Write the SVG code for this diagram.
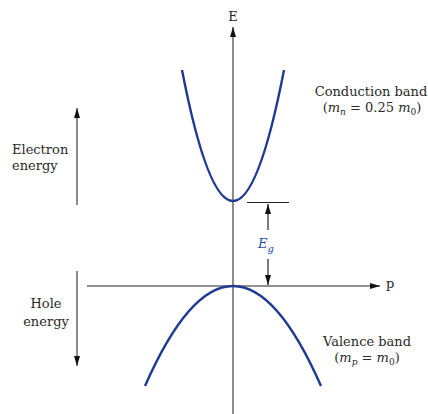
<svg xmlns="http://www.w3.org/2000/svg" width="428" height="414" viewBox="0 0 428 414">
<defs>
<marker id="ah" viewBox="0 0 10 6" refX="10" refY="3" markerWidth="10" markerHeight="6" markerUnits="userSpaceOnUse" orient="auto-start-reverse">
<path d="M0,0 L10,3 L0,6 Z" fill="#111"/>
</marker>
</defs>
<style>
text{font-family:"DejaVu Serif","Liberation Serif",serif;font-size:13px;fill:#2a2a2a}
.it{font-style:italic}
.ax{stroke:#666;stroke-width:1.5;fill:none}
.ln{stroke:#222;stroke-width:1.2;fill:none}
.band{stroke:#1f3a93;stroke-width:2.4;fill:none}
</style>
<rect width="428" height="414" fill="#fff"/>
<g id="connectors">
<line id="e-axis" class="ax" x1="233" y1="414" x2="233" y2="27" marker-end="url(#ah)"/>
<line id="p-axis" class="ln" x1="87" y1="286" x2="380" y2="286" marker-end="url(#ah)"/>
<line id="eg-top" class="ln" x1="247" y1="202.5" x2="289" y2="202.5"/>
<line id="eg-arrow-up" class="ln" x1="268" y1="230" x2="268" y2="204" marker-end="url(#ah)"/>
<line id="eg-arrow-down" class="ln" x1="268" y1="259" x2="268" y2="285" marker-end="url(#ah)"/>
<line id="electron-arrow" class="ax" x1="77" y1="205" x2="77" y2="108" marker-end="url(#ah)"/>
<line id="hole-arrow" class="ax" x1="77" y1="271" x2="77" y2="366" marker-end="url(#ah)"/>
</g>
<g id="conduction-band">
<path class="band" d="M182,70 Q233,332 284,70"/>
<text x="371" y="96" text-anchor="middle">Conduction band</text>
<text x="372" y="112" text-anchor="middle">(<tspan class="it">m</tspan><tspan class="it" font-size="9" dy="3">n</tspan><tspan dy="-3"> = 0.25 </tspan><tspan class="it">m</tspan><tspan font-size="9" dy="3">0</tspan><tspan dy="-3">)</tspan></text>
</g>
<g id="valence-band">
<path class="band" d="M145,386 Q233,186 321,386"/>
<text x="367" y="346" text-anchor="middle">Valence band</text>
<text x="367" y="362" text-anchor="middle">(<tspan class="it">m</tspan><tspan class="it" font-size="9" dy="3">p</tspan><tspan dy="-3"> = </tspan><tspan class="it">m</tspan><tspan font-size="9" dy="3">0</tspan><tspan dy="-3">)</tspan></text>
</g>
<g id="energy-gap">
<text x="258" y="248" font-size="15" style="fill:#2a4fa8"><tspan class="it">E</tspan><tspan class="it" font-size="10" dy="4">g</tspan></text>
</g>
<g id="axis-labels">
<text x="233" y="21" text-anchor="middle">E</text>
<text x="386" y="288">p</text>
</g>
<g id="electron-energy">
<text x="12" y="154">Electron</text>
<text x="12" y="170">energy</text>
</g>
<g id="hole-energy">
<text x="46" y="308" text-anchor="middle">Hole</text>
<text x="46" y="326" text-anchor="middle">energy</text>
</g>
</svg>
